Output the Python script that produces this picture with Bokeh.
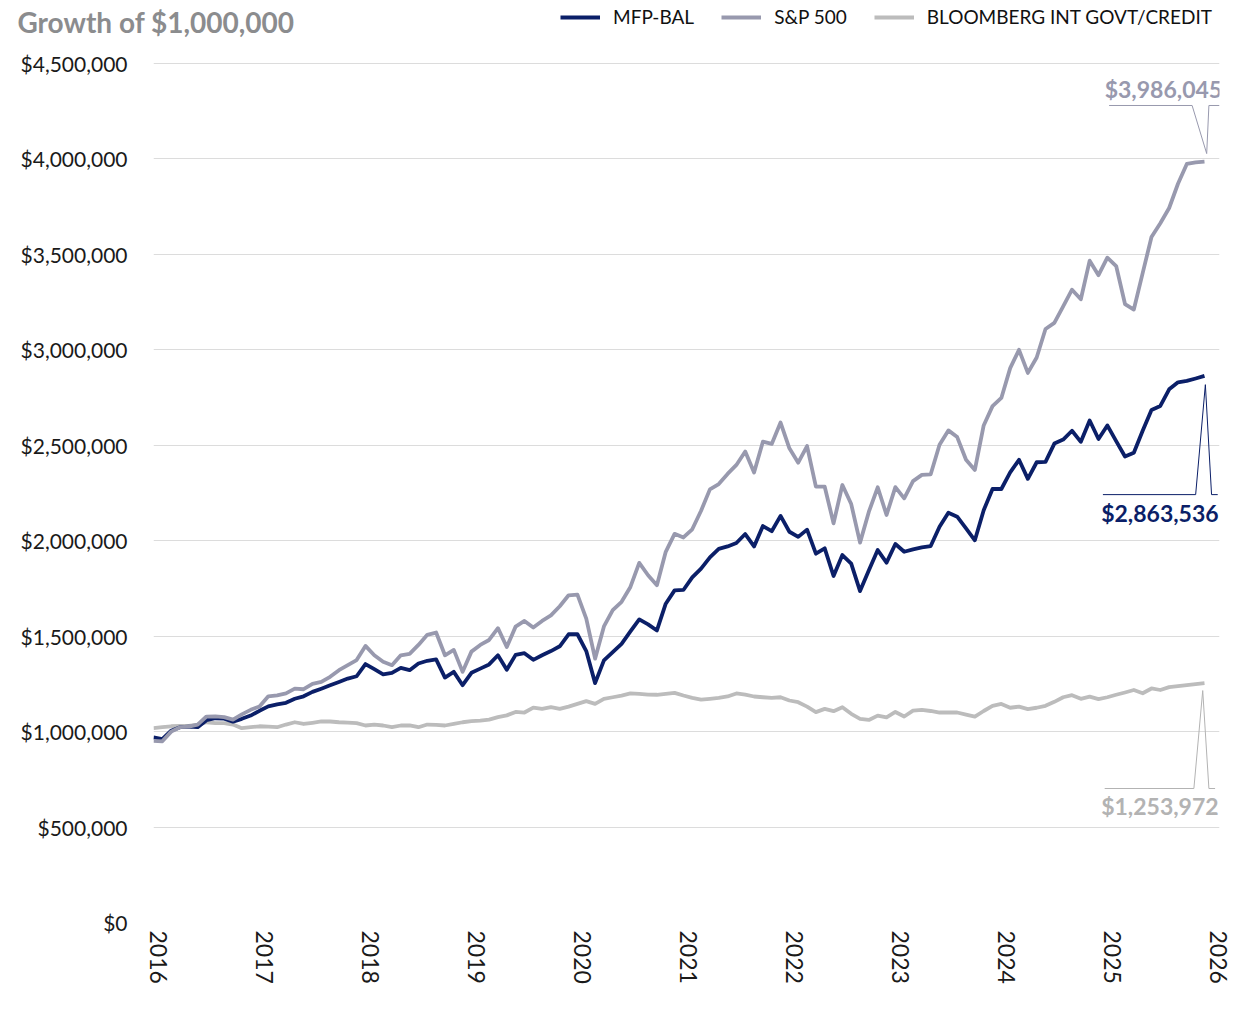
from bokeh.plotting import figure
from bokeh.layouts import column
from bokeh.models import Range1d, FixedTicker, NumeralTickFormatter, Label, Legend, LegendItem
from bokeh.embed import file_html
from bokeh.resources import INLINE

# ---------------- data (monthly, Jan 2016 .. Dec 2025), values in $ millions ----------------
year_ticks = [0, 12, 24, 36, 48, 60, 72, 84, 96, 108, 120]
year_labels = ["2016", "2017", "2018", "2019", "2020", "2021", "2022", "2023", "2024", "2025", "2026"]
y_ticks = [0, 500000, 1000000, 1500000, 2000000, 2500000, 3000000, 3500000, 4000000, 4500000]

mfp_bal = [0.970, 0.961, 1.005, 1.023, 1.026, 1.023, 1.060, 1.070, 1.068, 1.052, 1.067, 1.084,
           1.109, 1.132, 1.143, 1.151, 1.172, 1.185, 1.208, 1.225, 1.243, 1.260, 1.278, 1.290,
           1.354, 1.327, 1.300, 1.308, 1.334, 1.322, 1.357, 1.371, 1.378, 1.283, 1.313, 1.243,
           1.308, 1.330, 1.352, 1.400, 1.324, 1.402, 1.411, 1.376, 1.400, 1.422, 1.447, 1.510,
           1.510, 1.422, 1.254, 1.373, 1.417, 1.460, 1.525, 1.588, 1.562, 1.530, 1.670, 1.740,
           1.742, 1.808, 1.854, 1.913, 1.957, 1.970, 1.988, 2.035, 1.970, 2.077, 2.050, 2.130,
           2.047, 2.020, 2.058, 1.932, 1.960, 1.815, 1.925, 1.880, 1.736, 1.845, 1.951, 1.885,
           1.983, 1.942, 1.955, 1.965, 1.972, 2.073, 2.147, 2.126, 2.065, 2.002, 2.160, 2.271,
           2.271, 2.358, 2.424, 2.324, 2.411, 2.413, 2.509, 2.530, 2.576, 2.518, 2.630, 2.533,
           2.604, 2.522, 2.441, 2.461, 2.576, 2.685, 2.706, 2.793, 2.830, 2.837, 2.850, 2.863536]

sp500 = [0.952, 0.949, 1.000, 1.023, 1.026, 1.037, 1.079, 1.080, 1.076, 1.063, 1.090, 1.114,
         1.132, 1.185, 1.190, 1.200, 1.225, 1.222, 1.250, 1.260, 1.287, 1.322, 1.348, 1.375,
         1.449, 1.400, 1.366, 1.348, 1.400, 1.407, 1.454, 1.507, 1.519, 1.400, 1.428, 1.313,
         1.419, 1.454, 1.480, 1.542, 1.443, 1.550, 1.580, 1.545, 1.580, 1.609, 1.657, 1.714,
         1.718, 1.592, 1.382, 1.551, 1.636, 1.680, 1.758, 1.884, 1.819, 1.767, 1.942, 2.036,
         2.017, 2.060, 2.157, 2.269, 2.297, 2.350, 2.397, 2.467, 2.357, 2.519, 2.507, 2.619,
         2.484, 2.409, 2.496, 2.283, 2.283, 2.091, 2.292, 2.192, 1.990, 2.152, 2.280, 2.135,
         2.281, 2.222, 2.312, 2.345, 2.348, 2.503, 2.578, 2.543, 2.424, 2.371, 2.604, 2.705,
         2.748, 2.904, 3.000, 2.879, 2.960, 3.109, 3.141, 3.228, 3.315, 3.265, 3.467, 3.391,
         3.483, 3.439, 3.240, 3.211, 3.402, 3.591, 3.663, 3.743, 3.870, 3.974, 3.982, 3.986045]

bbg_int = [1.018, 1.023, 1.028, 1.030, 1.030, 1.037, 1.049, 1.044, 1.044, 1.037, 1.018, 1.023,
           1.028, 1.026, 1.023, 1.037, 1.049, 1.040, 1.046, 1.053, 1.053, 1.049, 1.047, 1.044,
           1.032, 1.037, 1.032, 1.023, 1.032, 1.033, 1.023, 1.037, 1.035, 1.032, 1.040, 1.049,
           1.055, 1.058, 1.063, 1.076, 1.085, 1.103, 1.100, 1.126, 1.119, 1.128, 1.119, 1.131,
           1.145, 1.160, 1.145, 1.172, 1.180, 1.189, 1.200, 1.198, 1.194, 1.193, 1.198, 1.203,
           1.189, 1.177, 1.168, 1.172, 1.177, 1.184, 1.200, 1.194, 1.184, 1.180, 1.177, 1.180,
           1.163, 1.154, 1.131, 1.102, 1.119, 1.107, 1.128, 1.093, 1.067, 1.061, 1.084, 1.075,
           1.103, 1.079, 1.110, 1.114, 1.108, 1.100, 1.100, 1.100, 1.089, 1.079, 1.108, 1.135,
           1.145, 1.125, 1.131, 1.118, 1.125, 1.135, 1.156, 1.180, 1.191, 1.172, 1.183, 1.170,
           1.180, 1.193, 1.205, 1.218, 1.201, 1.226, 1.218, 1.233, 1.238, 1.244, 1.249, 1.253972]

chart_title = "Growth of $1,000,000"
series_names = ["MFP-BAL", "S&P 500", "BLOOMBERG INT GOVT/CREDIT"]
end_labels = ["$2,863,536", "$3,986,045", "$1,253,972"]

# ---------------- styling ----------------
C_MFP = "#0b1f68"
C_SP = "#9899ae"
C_BBG = "#bcbcbc"
FONT = "Lato"
LW = 3.8
LABEL_SHIFT = 0.6  # year labels sit slightly right of the month-start position
W = 1250
HEADER_H = 50
MAIN_TOP = 12
PLOT_PX = 860                      # frame height in pixels
Y_TOP = 4.5e6 * PLOT_PX / (PLOT_PX - 1)  # keeps the top gridline one pixel inside the frame

months = list(range(len(mfp_bal)))
mfp = [v * 1e6 for v in mfp_bal]
sp = [v * 1e6 for v in sp500]
bbg = [v * 1e6 for v in bbg_int]

# ---------------- header strip: title + legend ----------------
header = figure(width=W, height=HEADER_H, output_backend="svg", toolbar_location=None,
                x_range=Range1d(0, W), y_range=Range1d(0, HEADER_H),
                x_axis_location=None, y_axis_location="left", min_border=0)
header.outline_line_color = None
header.grid.visible = False
header.background_fill_color = "white"
header.border_fill_color = "white"

# the title is carried by the strip's left axis (one tick), so it can sit left of the frame
title_tick = HEADER_H - 13
header.yaxis.ticker = FixedTicker(ticks=[title_tick])
header.yaxis.major_label_overrides = {title_tick: chart_title}
header.yaxis.axis_line_color = None
header.yaxis.major_tick_line_color = None
header.yaxis.minor_tick_line_color = None
header.yaxis.major_tick_out = 0
header.yaxis.major_tick_in = 0
header.yaxis.major_label_standoff = -141
header.yaxis.major_label_text_font = FONT
header.yaxis.major_label_text_font_style = "bold"
header.yaxis.major_label_text_font_size = "28px"
header.yaxis.major_label_text_color = "#8b8c8e"

# legend proxies: the real series, drawn far outside this strip's visible range
h_mfp = header.line(months, mfp, line_width=LW, color=C_MFP)
h_sp = header.line(months, sp, line_width=LW, color=C_SP)
h_bbg = header.line(months, bbg, line_width=LW, color=C_BBG)

legend = Legend(items=[LegendItem(label=series_names[0], renderers=[h_mfp]),
                       LegendItem(label=series_names[1], renderers=[h_sp]),
                       LegendItem(label=series_names[2], renderers=[h_bbg])],
                orientation="horizontal", location=(407, HEADER_H - 28))
legend.border_line_color = None
legend.background_fill_alpha = 0
legend.padding = 0
legend.margin = 0
legend.spacing = 27
legend.glyph_width = 40
legend.glyph_height = 20
legend.label_height = 20
legend.label_standoff = 13
legend.label_text_font = FONT
legend.label_text_font_size = "19px"
legend.label_text_color = "#111111"
header.add_layout(legend)

# ---------------- main chart ----------------
p = figure(width=W, height=1000 - HEADER_H, output_backend="svg", toolbar_location=None,
           x_range=Range1d(0, 120.7), y_range=Range1d(0, Y_TOP),
           min_border_left=153, min_border_right=31, min_border_top=MAIN_TOP, min_border_bottom=78)
p.outline_line_color = None
p.background_fill_color = "white"
p.border_fill_color = "white"

p.xgrid.grid_line_color = None
p.ygrid.grid_line_color = "#dcdcdc"
p.ygrid.grid_line_width = 1

p.yaxis.ticker = FixedTicker(ticks=y_ticks)
p.yaxis.formatter = NumeralTickFormatter(format="$0,0")
p.yaxis.axis_line_color = None
p.yaxis.major_tick_line_color = None
p.yaxis.minor_tick_line_color = None
p.yaxis.major_tick_out = 0
p.yaxis.major_tick_in = 0
p.yaxis.major_label_standoff = 26
p.yaxis.major_label_text_font = FONT
p.yaxis.major_label_text_font_size = "21px"
p.yaxis.major_label_text_color = "#1a1a1a"

xt = [t + LABEL_SHIFT for t in year_ticks]
p.xaxis.ticker = FixedTicker(ticks=xt)
p.xaxis.major_label_overrides = {t: l for t, l in zip(xt, year_labels)}
p.xaxis.major_label_orientation = "vertical"
p.xaxis.axis_line_color = None
p.xaxis.major_tick_line_color = None
p.xaxis.minor_tick_line_color = None
p.xaxis.major_tick_out = 0
p.xaxis.major_tick_in = 0
p.xaxis.major_label_standoff = 8
p.xaxis.major_label_text_font = FONT
p.xaxis.major_label_text_font_size = "23px"
p.xaxis.major_label_text_color = "#1a1a1a"

p.line(months, bbg, line_width=LW, color=C_BBG, line_join="round")
p.line(months, mfp, line_width=LW, color=C_MFP, line_join="round")
p.line(months, sp, line_width=LW, color=C_SP, line_join="round")

# ---------------- end-value callouts ----------------
last = months[-1]
def callout(vals, color, text, bar_off, tip_off, dx, text_off, text_dx):
    v = vals[-1]
    bar = v + bar_off
    tip = v + tip_off
    xs = [last + d for d in dx]
    ys = [bar, bar, tip, bar, bar]
    p.line(xs, ys, line_width=1, color=color)
    p.add_layout(Label(x=last + text_dx, y=v + text_off, text=text, text_align="right",
                       text_baseline="middle", text_font=FONT, text_font_style="bold",
                       text_font_size="23px", text_color=color))

callout(sp, C_SP, end_labels[1], 0.294e6, 0.042e6, [-10.8, -1.4, 0.25, 0.5, 1.7], 0.378e6, 2.0)
callout(mfp, C_MFP, end_labels[0], -0.622e6, -0.046e6, [-11.5, -1.0, 0.1, 0.8, 1.5], -0.72e6, 1.6)
callout(bbg, "#b3b3b3", end_labels[2], -0.552e6, -0.039e6, [-11.3, -1.2, -0.2, 0.5, 1.2], -0.646e6, 1.6)

layout = column(header, p, spacing=0)
open("out.html", "w").write(file_html(layout, INLINE))
